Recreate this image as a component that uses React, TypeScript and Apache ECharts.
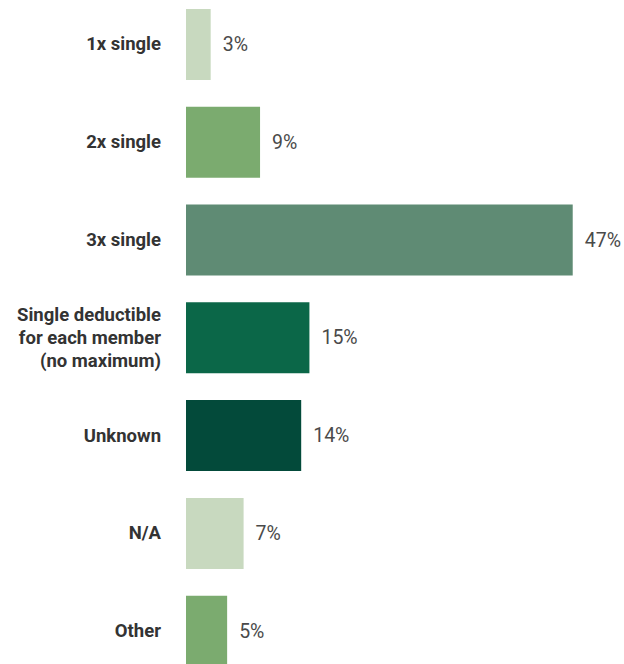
import React, { useEffect, useRef } from "react";
import * as echarts from "echarts";

const categories = [
  "1x single",
  "2x single",
  "3x single",
  "Single deductible\nfor each member\n(no maximum)",
  "Unknown",
  "N/A",
  "Other",
];
const values = [3, 9, 47, 15, 14, 7, 5];
const colors = ["#c8d9bf", "#7bab6f", "#5f8b74", "#0b6748", "#034a3a", "#c8d9bf", "#7bab6f"];

export default function App() {
  const ref = useRef<HTMLDivElement>(null);
  useEffect(() => {
    if (!ref.current) return;
    const chart = echarts.init(ref.current, undefined, { renderer: "svg" });
    chart.setOption({
      animation: false,
      grid: {
        left: 186,
        top: -4.5,
        width: 411.4,
        height: 684.6,
        containLabel: false,
        outerBoundsMode: "none",
      },
      xAxis: {
        type: "value",
        min: 0,
        max: 50,
        show: false,
      },
      yAxis: {
        type: "category",
        inverse: true,
        data: categories,
        axisLine: { show: false },
        axisTick: { show: false },
        splitLine: { show: false },
        axisLabel: {
          margin: 25,
          color: "#333333",
          fontFamily: "Roboto, sans-serif",
          fontWeight: "bold",
          fontSize: 18.5,
          lineHeight: 23,
          align: "right",
        },
      },
      series: [
        {
          type: "bar",
          barWidth: "72.6%",
          data: values.map((v, i) => ({ value: v, itemStyle: { color: colors[i] } })),
          label: {
            show: true,
            position: "right",
            distance: 12,
            formatter: "{c}%",
            color: "#4a4a4a",
            fontFamily: "Roboto, sans-serif",
            fontSize: 19.5,
          },
        },
      ],
    });
    return () => chart.dispose();
  }, []);
  return <div ref={ref} style={{ width: 624, height: 664, position: "absolute", left: 0, top: 0 }} />;
}
